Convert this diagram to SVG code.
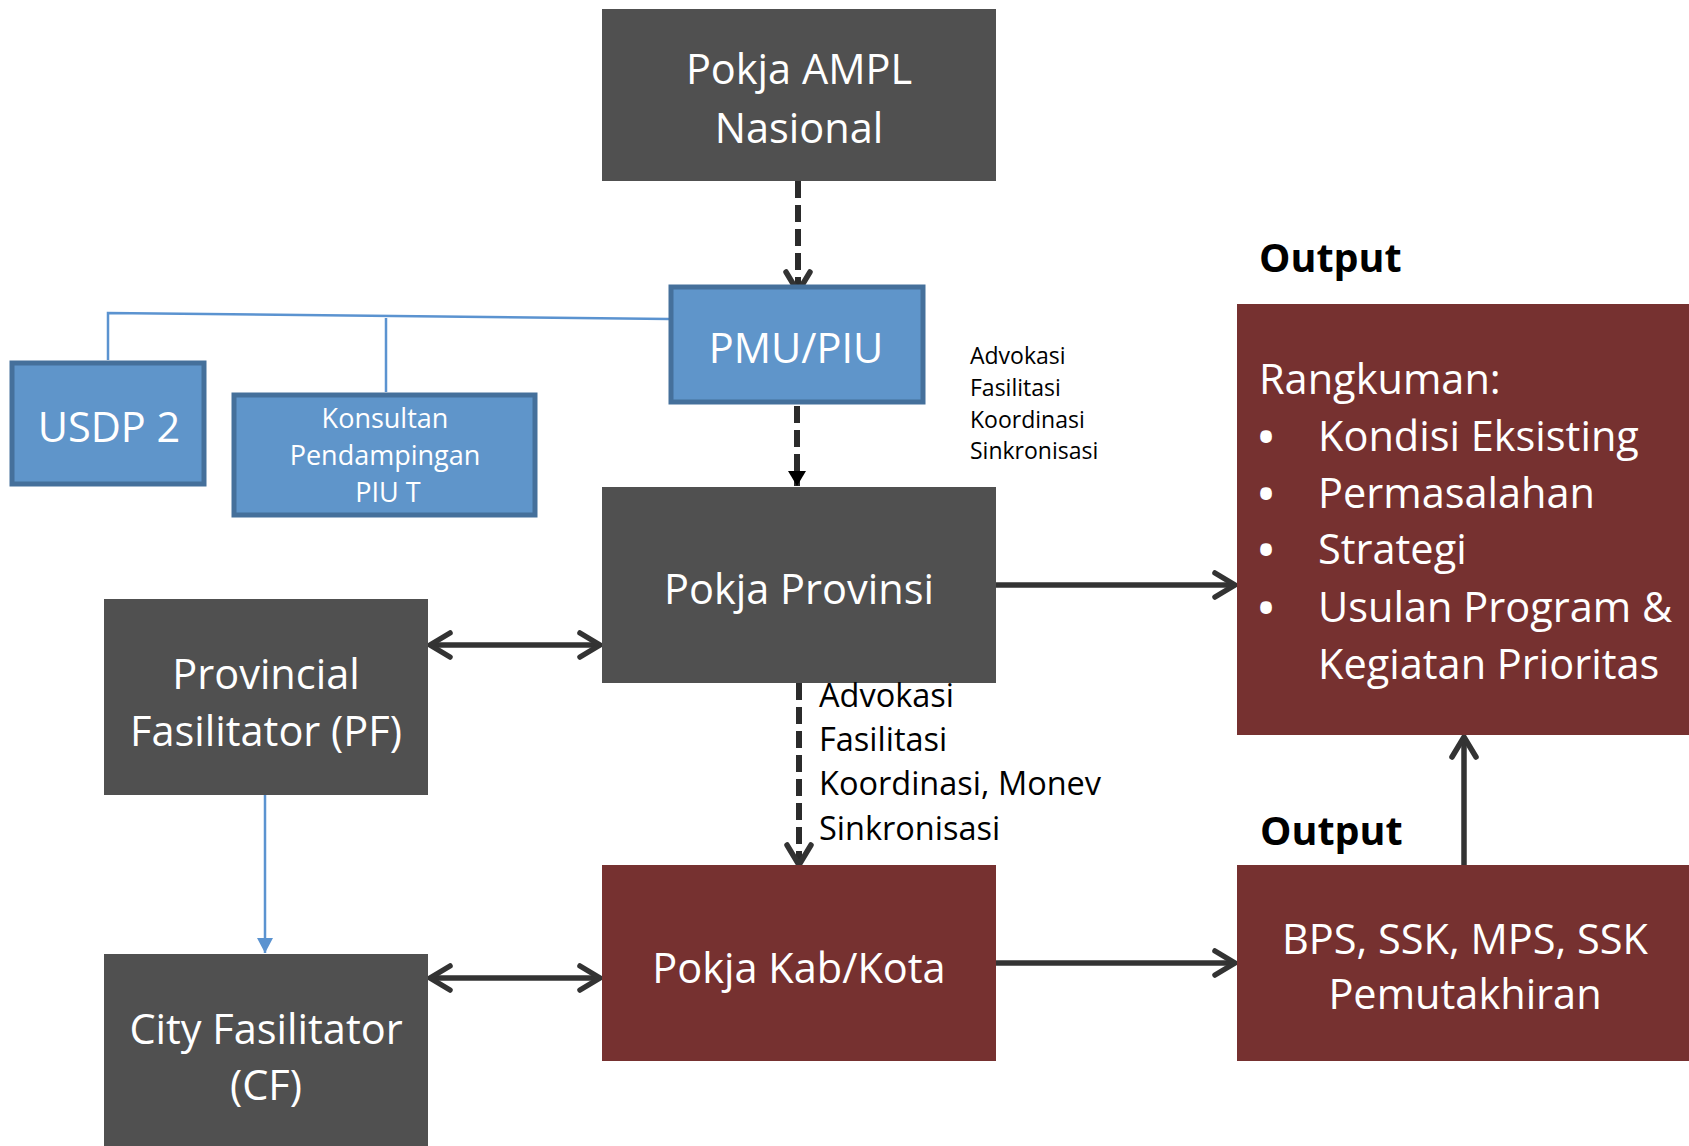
<svg xmlns="http://www.w3.org/2000/svg" width="1689" height="1146" viewBox="0 0 1689 1146">
<style>
.gray{fill:#505050}
.red{fill:#763130}
.blue{fill:#5F95CA;stroke:#45709B;stroke-width:5}
.t{font-family:"Open Sans","Liberation Sans",sans-serif;fill:#ffffff;text-anchor:middle}
.big{font-size:41.5px}
.mid{font-size:27px}
.bul{font-size:41.5px;font-weight:bold}
.lab{font-family:"Open Sans","Liberation Sans",sans-serif;fill:#000000}
.out{font-family:"Open Sans","Liberation Sans",sans-serif;font-weight:bold;font-size:39.5px;fill:#000000}
.solid{stroke:#333333;stroke-width:5.5;fill:none}
.dash{stroke:#2b2b2b;stroke-width:6;fill:none;stroke-dasharray:17 7}
.thin{stroke:#5B93D0;stroke-width:2.5;fill:none}
</style>
<defs>
<marker id="chev" markerUnits="userSpaceOnUse" viewBox="0 0 28 30" refX="24" refY="15" markerWidth="28" markerHeight="30" orient="auto-start-reverse">
<path d="M4,3 L24,15 L4,27" fill="none" stroke="#333333" stroke-width="5.5" stroke-linecap="round" stroke-linejoin="miter"/>
</marker>
<marker id="tri" markerUnits="userSpaceOnUse" viewBox="0 0 16 18" refX="15" refY="9" markerWidth="16" markerHeight="18" orient="auto">
<path d="M0,0 L15,9 L0,18 Z" fill="#000000"/>
</marker>
<marker id="btri" markerUnits="userSpaceOnUse" viewBox="0 0 16 16" refX="15" refY="8" markerWidth="16" markerHeight="16" orient="auto">
<path d="M0,0 L15,8 L0,16 Z" fill="#5B93D0"/>
</marker>
</defs>

<g id="connectors">
<line class="dash" x1="798" y1="181" x2="798" y2="292" marker-end="url(#chev)"/>
<line class="dash" x1="797" y1="406" x2="797" y2="486" marker-end="url(#tri)"/>
<line class="dash" x1="799" y1="683" x2="799" y2="865" marker-end="url(#chev)"/>
<line class="solid" x1="430" y1="645" x2="600" y2="645" marker-start="url(#chev)" marker-end="url(#chev)"/>
<line class="solid" x1="430" y1="978" x2="600" y2="978" marker-start="url(#chev)" marker-end="url(#chev)"/>
<line class="solid" x1="996" y1="585" x2="1235" y2="585" marker-end="url(#chev)"/>
<line class="solid" x1="996" y1="963" x2="1235" y2="963" marker-end="url(#chev)"/>
<line class="solid" x1="1464" y1="865" x2="1464" y2="737" marker-end="url(#chev)"/>
<line class="thin" x1="265" y1="795" x2="265" y2="953" marker-end="url(#btri)"/>
<polyline class="thin" points="669,319 108,313 108,360"/>
<line class="thin" x1="386" y1="318" x2="386" y2="392"/>
</g>

<g id="pokja-ampl">
<rect class="gray" x="602" y="9" width="394" height="172"/>
<text class="t big" x="799" y="84">Pokja AMPL</text>
<text class="t big" x="799" y="143">Nasional</text>
</g>

<g id="pmu-piu">
<rect class="blue" x="671" y="287" width="252" height="115"/>
<text class="t big" x="796" y="363">PMU/PIU</text>
</g>

<g id="usdp2">
<rect class="blue" x="12" y="363" width="192" height="121"/>
<text class="t big" x="109" y="442">USDP 2</text>
</g>

<g id="konsultan">
<rect class="blue" x="234" y="395" width="301" height="120"/>
<text class="t mid" x="385" y="428">Konsultan</text>
<text class="t mid" x="385" y="465">Pendampingan</text>
<text class="t mid" x="388" y="502">PIU T</text>
</g>

<g id="label-pmu">
<text class="lab" font-size="23" x="970" y="364">Advokasi</text>
<text class="lab" font-size="23" x="970" y="396">Fasilitasi</text>
<text class="lab" font-size="23" x="970" y="428">Koordinasi</text>
<text class="lab" font-size="23" x="970" y="459">Sinkronisasi</text>
</g>

<g id="pokja-provinsi">
<rect class="gray" x="602" y="487" width="394" height="196"/>
<text class="t big" x="799" y="604">Pokja Provinsi</text>
</g>

<g id="pf">
<rect class="gray" x="104" y="599" width="324" height="196"/>
<text class="t big" x="266" y="689">Provincial</text>
<text class="t big" x="266" y="746">Fasilitator (PF)</text>
</g>

<g id="label-provinsi">
<text class="lab" font-size="32.5" x="819" y="707">Advokasi</text>
<text class="lab" font-size="32.5" x="819" y="751">Fasilitasi</text>
<text class="lab" font-size="32.5" x="819" y="795">Koordinasi, Monev</text>
<text class="lab" font-size="32.5" x="819" y="840">Sinkronisasi</text>
</g>

<g id="cf">
<rect class="gray" x="104" y="954" width="324" height="192"/>
<text class="t big" x="266" y="1044">City Fasilitator</text>
<text class="t big" x="266" y="1100">(CF)</text>
</g>

<g id="pokja-kab-kota">
<rect class="red" x="602" y="865" width="394" height="196"/>
<text class="t big" x="799" y="983">Pokja Kab/Kota</text>
</g>

<g id="output-label-1">
<text class="out" x="1259" y="272">Output</text>
</g>

<g id="rangkuman">
<rect class="red" x="1237" y="304" width="452" height="431"/>
<text class="t big" x="1259" y="394" style="text-anchor:start">Rangkuman:</text>
<text class="t bul" x="1266" y="452">•</text>
<text class="t big" x="1318" y="451" style="text-anchor:start">Kondisi Eksisting</text>
<text class="t bul" x="1266" y="509">•</text>
<text class="t big" x="1318" y="508" style="text-anchor:start">Permasalahan</text>
<text class="t bul" x="1266" y="565">•</text>
<text class="t big" x="1318" y="564" style="text-anchor:start">Strategi</text>
<text class="t bul" x="1266" y="623">•</text>
<text class="t big" x="1318" y="622" style="text-anchor:start">Usulan Program &amp;</text>
<text class="t big" x="1318" y="679" style="text-anchor:start">Kegiatan Prioritas</text>
</g>

<g id="output-label-2">
<text class="out" x="1260" y="845">Output</text>
</g>

<g id="bps">
<rect class="red" x="1237" y="865" width="452" height="196"/>
<text class="t big" x="1465" y="954">BPS, SSK, MPS, SSK</text>
<text class="t big" x="1465" y="1009">Pemutakhiran</text>
</g>
</svg>
